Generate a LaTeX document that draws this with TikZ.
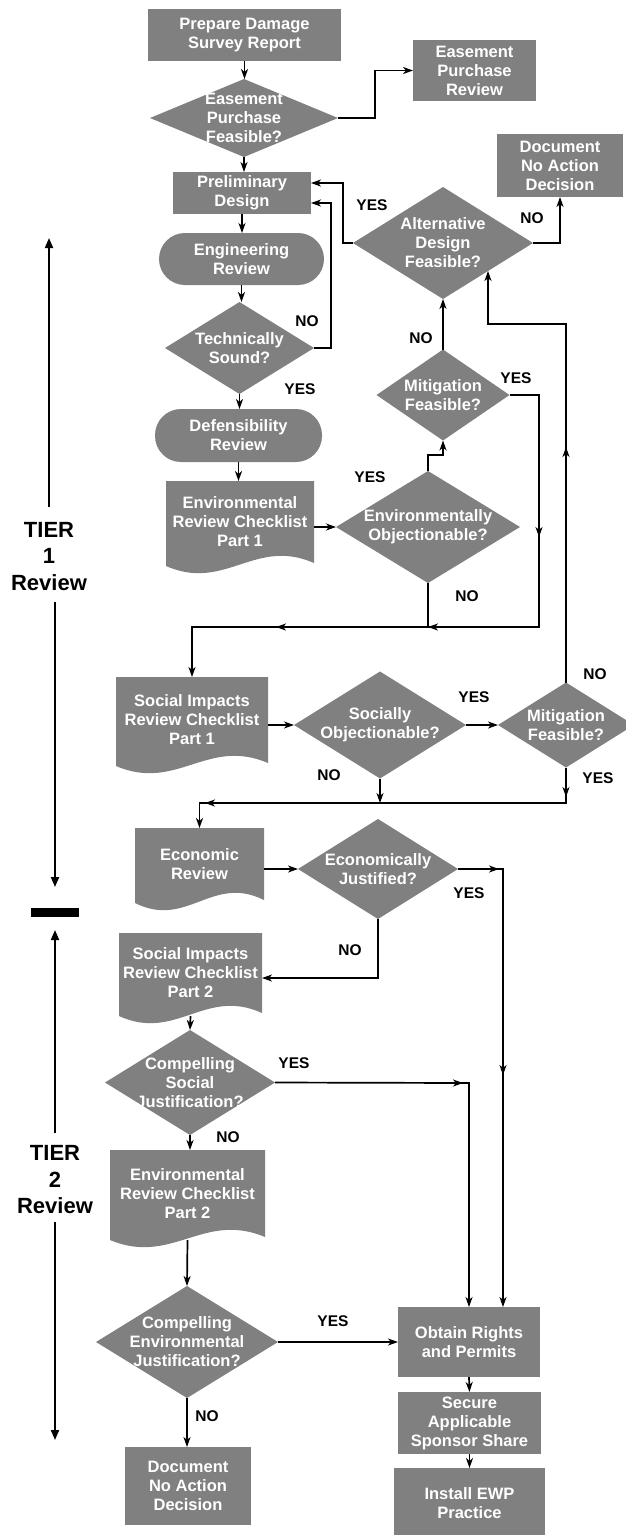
\documentclass[tikz,border=0pt]{standalone}
\usepackage{fontspec}
\setmainfont{Liberation Sans}
\usetikzlibrary{arrows.meta,shapes.geometric,calc}
\definecolor{boxgray}{RGB}{128,128,128}
\pgfdeclarelayer{bg}
\pgfsetlayers{bg,main}
\newcommand\boxfont{\bfseries\fontsize{16.5}{19}\selectfont}
\newcommand\lblfont{\bfseries\fontsize{15.5}{18}\selectfont}
\newcommand\tierfont{\bfseries\fontsize{22}{26.5}\selectfont}
\newcommand\docfill[2]{\fill[boxgray] (#1.north west) -- (#1.north east) -- (#1.south east) .. controls +(-#2,-26) and +(#2,26) .. ([yshift=-3pt]#1.south west) -- cycle;}
\begin{document}
\begin{tikzpicture}[x=1pt,y=-1pt,
  box/.style={rectangle, fill=boxgray, text=white, font=\boxfont, align=center, inner sep=0pt, outer sep=0pt},
  docbox/.style={rectangle, text=white, font=\boxfont, align=center, inner sep=0pt, outer sep=0pt},
  dia/.style={diamond, fill=boxgray, inner sep=0pt, outer sep=0pt},
  dtext/.style={text=white, font=\boxfont, align=center, inner sep=0pt},
  lbl/.style={font=\lblfont, text=black, inner sep=0pt},
  tierlbl/.style={font=\tierfont, text=black, align=center, inner sep=0pt},
  conn/.style={line width=1.7pt},
  flow/.style={line width=1.7pt, -{Stealth[length=10pt,width=7pt,inset=3pt]}},
  tier/.style={line width=1.9pt, -{Triangle[length=10pt,width=8pt]}}]
\useasboundingbox (0,0) rectangle (626,1535);

% ---------- boxes ----------
\node[box, minimum width=193, minimum height=52] (prep) at (244.5,35) {Prepare Damage\\Survey Report};
\node[dia, minimum width=188, minimum height=78, label={[dtext]center:{Easement\\Purchase\\Feasible?}}] (eas) at (244,118) {};
\node[box, minimum width=123, minimum height=61] (epr) at (474.5,70.5) {Easement\\Purchase\\Review};
\node[box, minimum width=138, minimum height=42] (prelim) at (242,193) {Preliminary\\Design};
\node[box, minimum width=126, minimum height=63] (doc1) at (560,165.5) {Document\\No Action\\Decision};
\node[dia, minimum width=180, minimum height=112, label={[dtext]center:{Alternative\\Design\\Feasible?}}] (alt) at (443,243) {};
\node[box, rounded corners=26pt, minimum width=165, minimum height=52] (eng) at (241.5,259) {Engineering\\Review};
\node[dia, minimum width=149, minimum height=92, label={[dtext]center:{Technically\\Sound?}}] (tech) at (239.5,348) {};
\node[dia, minimum width=133, minimum height=91, label={[dtext]center:{Mitigation\\Feasible?}}] (mit1) at (443,395) {};
\node[box, rounded corners=26pt, minimum width=167, minimum height=53] (def) at (238.5,435.5) {Defensibility\\Review};
\node[docbox, minimum width=148, minimum height=82] (env1) at (240,522) {Environmental\\Review Checklist\\Part 1};
\node[dia, minimum width=184, minimum height=112, label={[dtext]center:{Environmentally\\Objectionable?}}] (envobj) at (428,527) {};
\node[docbox, minimum width=152, minimum height=86] (soc1) at (192,720) {Social Impacts\\Review Checklist\\Part 1};
\node[dia, minimum width=172, minimum height=107, label={[dtext]center:{Socially\\Objectionable?}}] (socobj) at (380,725) {};
\node[dia, minimum width=136, minimum height=85, label={[dtext]center:{Mitigation\\Feasible?}}] (mit2) at (566,725) {};
\node[docbox, minimum width=129, minimum height=72] (econ) at (199.5,864) {Economic\\Review};
\node[dia, minimum width=160, minimum height=100, label={[dtext]center:{Economically\\Justified?}}] (ecoj) at (378,869) {};
\node[docbox, minimum width=143, minimum height=80] (soc2) at (190.5,973) {Social Impacts\\Review Checklist\\Part 2};
\node[dia, minimum width=170, minimum height=105, label={[dtext]center:{Compelling\\Social\\Justification?}}] (csj) at (190,1082.5) {};
\node[docbox, minimum width=155, minimum height=87] (env2) at (187.5,1193.5) {Environmental\\Review Checklist\\Part 2};
\node[dia, minimum width=182, minimum height=112, label={[dtext]center:{Compelling\\Environmental\\Justification?}}] (cej) at (187,1342) {};
\node[box, minimum width=126, minimum height=78] (doc2) at (188,1486) {Document\\No Action\\Decision};
\node[box, minimum width=142, minimum height=70] (obtain) at (469,1342) {Obtain Rights\\and Permits};
\node[box, minimum width=143, minimum height=62] (secure) at (469.5,1423) {Secure\\Applicable\\Sponsor Share};
\node[box, minimum width=151, minimum height=70] (install) at (469.5,1503) {Install EWP\\Practice};

\begin{pgfonlayer}{bg}
\docfill{env1}{59}
\docfill{soc1}{61}
\docfill{econ}{52}
\docfill{soc2}{57}
\docfill{env2}{62}
\end{pgfonlayer}

% ---------- helper coordinates ----------
\coordinate (nR) at (539,627);
\coordinate (nE) at (envobj.south |- nR);
\coordinate (nM) at (276,627);
\coordinate (nL) at (soc1.north |- nR);
\coordinate (rT) at (566,324);
\coordinate (sY) at (0,803);
\coordinate (sL) at (econ.north |- sY);
\coordinate (vR) at (503,869);
\coordinate (wY) at (0,978);
\coordinate (yR) at (469,1083);

% ---------- connectors ----------
\draw[flow] (prep.south) -- (prep.south |- eas.north);
\draw[flow] (eas.east) -- ++(37,0) |- (epr.west);
\draw[flow] (eas.south) -- (eas.south |- prelim.north);
\draw[flow] (prelim.south) -- (prelim.south |- eng.north);
\draw[flow] (eng.south) -- (eng.south |- tech.north);
\draw[flow] (tech.east) -- ++(17,0) |- ([yshift=-10pt]prelim.east);
\draw[flow] (alt.west) -- ++(-10,0) |- ([yshift=10pt]prelim.east);
\draw[flow] (alt.east) -| (doc1.south);
\draw[flow] (tech.south) -- (tech.south |- def.north);
\draw[flow] (def.south) -- (def.south |- env1.north);
\draw[flow] (env1.east |- envobj.west) -- (envobj.west);
\draw[flow] (envobj.north) -- ++(0,-16) -| (mit1.south);
\draw[flow] (mit1.north) -- (alt.south);
% mitigation yes / env no -> social
\draw[flow] (mit1.east) -| (nR) -- (nL) -- (soc1.north);
\draw[flow] (539,518) -- (539,537);
\draw[flow] (455,627) -- (nE);
\draw[flow] (300,627) -- (nM);
\draw[conn] (envobj.south) -- (nE);
% social
\draw[flow] (soc1.east |- socobj.west) -- (socobj.west);
\draw[flow] (socobj.east) -- (mit2.west);
\draw[flow] (mit2.north) -- (mit2.north |- rT) -| (alt.south east);
\draw[flow] (566,470) -- (566,447);
\draw[flow] (mit2.south) -- (mit2.south |- sY) -- (sL) -- (econ.north);
\draw[flow] (566,778) -- (566,797);
\draw[flow] (230,803) -- (205,803);
\draw[flow] (socobj.south) -- (socobj.south |- sY);
% economic
\draw[flow] (econ.east |- ecoj.west) -- (ecoj.west);
\draw[flow] (ecoj.east) -- (vR) -- (vR |- obtain.north);
\draw[flow] (478,869) -- (499,869);
\draw[flow] (503,1054) -- (503,1075);
\draw[flow] (ecoj.south) |- (soc2.east |- wY);
\draw[flow] ([yshift=-3pt]soc2.south) -- (csj.north);
\draw[flow] (csj.east) -- (yR) -- (yR |- obtain.north);
\draw[flow] (440,1083) -- (463,1083);
\draw[flow] (csj.south) -- (csj.south |- env2.north);
\draw[flow] ([yshift=-3pt]env2.south) -- (cej.north);
\draw[flow] (cej.east) -- (cej.east -| obtain.west);
\draw[flow] (cej.south) -- (cej.south |- doc2.north);
\draw[flow] (obtain.south) -- (secure.north);
\draw[flow] (secure.south) -- (install.north);

% ---------- labels ----------
\node[lbl] (l1) at (372,205) {YES};
\node[lbl] (l2) at (532,218) {NO};
\node[lbl] (l3) at (307,321) {NO};
\node[lbl] (l4) at (300,389) {YES};
\node[lbl] (l5) at (421,338) {NO};
\node[lbl] (l6) at (516,378) {YES};
\node[lbl] (l7) at (370,477) {YES};
\node[lbl] (l8) at (467,596) {NO};
\node[lbl] (l9) at (474,697) {YES};
\node[lbl] (l10) at (595,674) {NO};
\node[lbl] (l11) at (329,775) {NO};
\node[lbl] (l12) at (598,778) {YES};
\node[lbl] (l13) at (469,893) {YES};
\node[lbl] (l14) at (350,950) {NO};
\node[lbl] (l15) at (294,1063) {YES};
\node[lbl] (l16) at (228,1137) {NO};
\node[lbl] (l17) at (333,1321) {YES};
\node[lbl] (l18) at (207,1416) {NO};

% ---------- tiers ----------
\node[tierlbl] (t1) at (49,556.5) {TIER\\1\\Review};
\node[tierlbl] (t2) at (55,1180) {TIER\\2\\Review};
\node[rectangle, fill=black, inner sep=0pt, minimum width=48, minimum height=9] (bar) at (55,912.5) {};
\coordinate (t1a) at (49,507);
\coordinate (t1b) at (49,238);
\coordinate (t1c) at (55,602);
\coordinate (t1d) at (55,887);
\coordinate (t2a) at (55,1133);
\coordinate (t2b) at (55,930);
\coordinate (t2c) at (55,1222);
\coordinate (t2d) at (55,1440);
\draw[tier] (t1a) -- (t1b);
\draw[tier] (t1c) -- (t1d);
\draw[tier] (t2a) -- (t2b);
\draw[tier] (t2c) -- (t2d);
\end{tikzpicture}
\end{document}
